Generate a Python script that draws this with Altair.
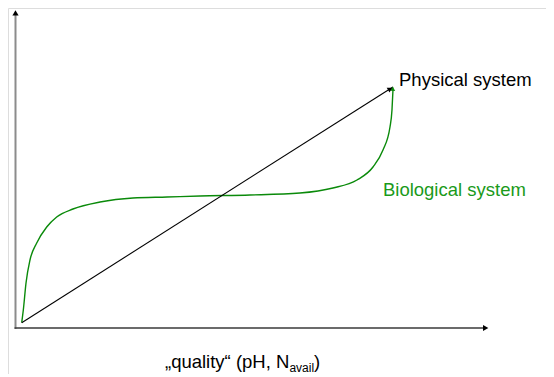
import altair as alt
import pandas as pd

# Biological system curve (abstract units: x 0..100 along x-axis, y 0..100 along y-axis)
bio_x = [1.31, 1.65, 2.22, 3.06, 4.48, 6.59, 8.70, 12.14, 17.85, 24.82, 32.0, 38.97,
         49.52, 60.08, 67.05, 72.12, 75.5, 77.61, 79.09, 79.51, 79.72]
bio_y = [1.67, 5.66, 14.15, 21.38, 26.73, 31.76, 34.91, 37.42, 39.62, 40.88, 41.19, 41.51,
         41.82, 42.45, 44.03, 46.54, 50.63, 55.97, 63.21, 68.55, 74.84]

# Physical system straight line
phys_x = [1.31, 79.72]
phys_y = [1.67, 75.79]

# axes extents
yaxis_top = 98.6
xaxis_right = 98.9

labels = ["Physical system", "Biological system"]
label_x = [81.0, 77.6]
label_y = [76.1, 41.51]
label_color = ["#000000", "#1a9a1a"]

xtitle_parts = ["\u201equality\u201c (pH, N", "avail", ")"]
xtitle_x = [31.57, 57.85, 63.04]
xtitle_y = [-12.58, -13.68, -12.58]

W, H = 538, 366
xs = alt.Scale(domain=[-7.5 / 4.735, (W - 7.5) / 4.735], nice=False, zero=False)
ys = alt.Scale(domain=[(320 - H) / 3.18, 320 / 3.18], nice=False, zero=False)
FONT = "Liberation Sans"


def X(f="x"):
    return alt.X(f"{f}:Q", scale=xs, axis=None)


def Y(f="y"):
    return alt.Y(f"{f}:Q", scale=ys, axis=None)


yaxis = alt.Chart(pd.DataFrame({"x": [0.0], "y": [-0.3], "y2": [yaxis_top]})).mark_rule(
    color="#8c8c8c", strokeWidth=2
).encode(x=X(), y=Y(), y2="y2:Q")

xaxis = alt.Chart(pd.DataFrame({"x": [-0.2], "x2": [xaxis_right], "y": [0.0]})).mark_rule(
    color="#3a3a3a", strokeWidth=1.6
).encode(x=X(), x2="x2:Q", y=Y())

yarrow = alt.Chart(pd.DataFrame({"x": [0.0], "y": [99.1]})).mark_point(
    shape="triangle-up", filled=True, color="#000000", size=38, opacity=1
).encode(x=X(), y=Y())

xarrow = alt.Chart(pd.DataFrame({"x": [99.3], "y": [0.0]})).mark_point(
    shape="triangle-right", filled=True, color="#000000", size=38, opacity=1
).encode(x=X(), y=Y())

bio = alt.Chart(pd.DataFrame({"x": bio_x, "y": bio_y})).mark_line(
    color="#0a8a0a", strokeWidth=1.4, interpolate="monotone"
).encode(x=X(), y=Y())

phys = alt.Chart(pd.DataFrame({"x": phys_x, "y": phys_y})).mark_line(
    color="#000000", strokeWidth=1.1
).encode(x=X(), y=Y())

bio_head = alt.Chart(pd.DataFrame({"x": [bio_x[-1] - 0.05], "y": [bio_y[-1] + 0.4]})).mark_point(
    shape="triangle-up", filled=True, color="#0a8a0a", size=26, angle=3, opacity=1
).encode(x=X(), y=Y())

phys_head = alt.Chart(pd.DataFrame({"x": [phys_x[-1] - 0.6], "y": [phys_y[-1] - 0.6]})).mark_point(
    shape="triangle-up", filled=True, color="#000000", size=30, angle=58, opacity=1
).encode(x=X(), y=Y())

lab_df = pd.DataFrame({"x": label_x, "y": label_y, "t": labels, "c": label_color})
lab = alt.Chart(lab_df).mark_text(
    align="left", baseline="alphabetic", font=FONT, fontSize=18.5
).encode(x=X(), y=Y(), text="t:N", color=alt.Color("c:N", scale=None))

xt_main = alt.Chart(pd.DataFrame({"x": [xtitle_x[0], xtitle_x[2]], "y": [xtitle_y[0], xtitle_y[2]],
                                  "t": [xtitle_parts[0], xtitle_parts[2]]})).mark_text(
    align="left", baseline="alphabetic", font=FONT, fontSize=18.5, color="#000000"
).encode(x=X(), y=Y(), text="t:N")

xt_sub = alt.Chart(pd.DataFrame({"x": [xtitle_x[1]], "y": [xtitle_y[1]], "t": [xtitle_parts[1]]})).mark_text(
    align="left", baseline="alphabetic", font=FONT, fontSize=12, color="#000000"
).encode(x=X(), y=Y(), text="t:N")

chart = alt.layer(
    yaxis, xaxis, yarrow, xarrow, bio, phys, bio_head, phys_head, lab, xt_main, xt_sub
).properties(
    width=W, height=H, padding=0, autosize=alt.AutoSizeParams(type="none")
).configure_view(strokeWidth=0, stroke="transparent").configure(background="#ffffff")

chart.save("out.html", embed_options={"renderer": "svg", "actions": False})
